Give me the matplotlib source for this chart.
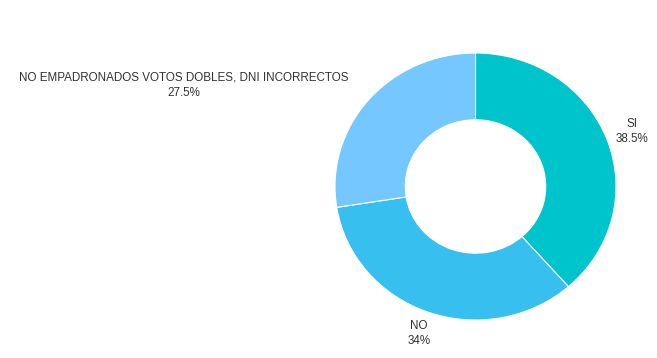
import numpy as np
from matplotlib import pyplot as plt

labels = ['SI', 'NO', 'NO EMPADRONADOS VOTOS DOBLES, DNI INCORRECTOS']
values = [38.5, 34.0, 27.5]
pct_text = ['38.5%', '34%', '27.5%']
colors = ['#00C4CC', '#36BFEF', '#75C8FF']
label_ha = ['center', 'center', 'right']

plt.rcParams['font.family'] = ['Liberation Sans', 'DejaVu Sans']

fig = plt.figure(figsize=(6.57, 3.58), dpi=100)
ax = fig.add_axes([335 / 657, 38 / 358, 281 / 657, 267 / 358])

ax.pie(values, colors=colors, startangle=90, counterclock=False,
       radius=1.0, wedgeprops=dict(width=0.5, edgecolor='white', linewidth=0.8))
ax.set_aspect('auto')
ax.set_xlim(-1, 1)
ax.set_ylim(-1, 1)
ax.axis('off')

# label positions from the wedge middles
total = sum(values)
start = 90.0
for lab, v, pt, ha in zip(labels, values, pct_text, label_ha):
    mid = np.deg2rad(start - v / total * 360 / 2)
    start -= v / total * 360
    x = 1.19 * np.cos(mid)
    y = 1.17 * np.sin(mid)
    ax.text(x, y, lab + '\n' + pt, ha=ha, va='center', multialignment='center',
            fontsize=8.4, color='#333333', linespacing=1.35, clip_on=False)

fig.savefig('out.png', dpi=100)
